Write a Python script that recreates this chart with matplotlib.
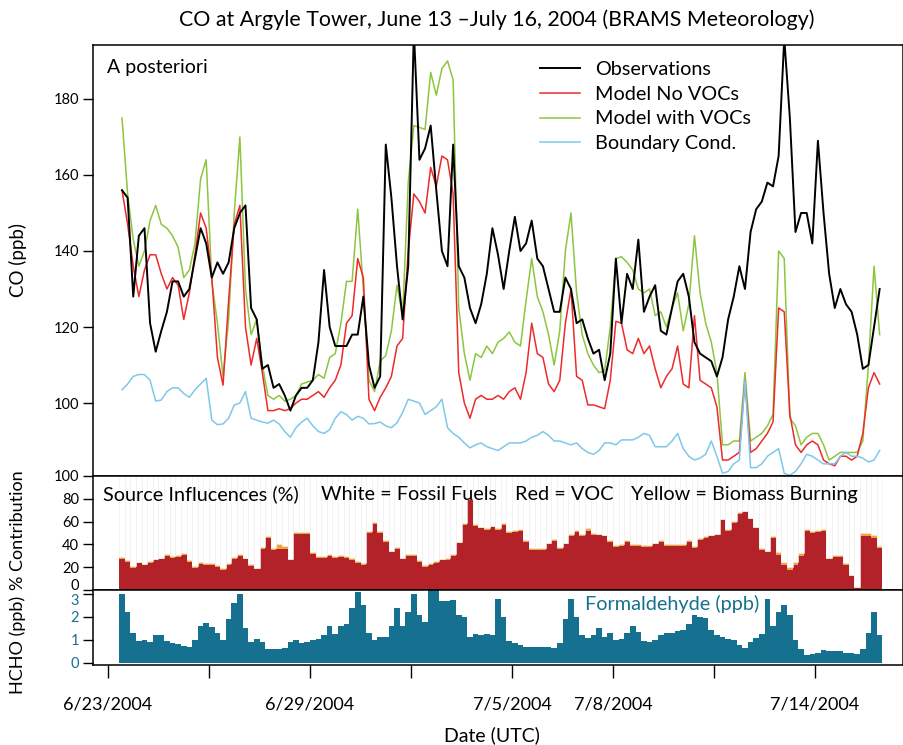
import numpy as np
import matplotlib
matplotlib.use("Agg")
import matplotlib.pyplot as plt
import matplotlib.dates as mdates

plt.rcParams["font.family"] = ["Lato", "DejaVu Sans"]

# hours since 2004-06-23 00 UTC, one sample every 4 h
hours = np.arange(10, 551, 4)

obs = [156, 154, 128, 144, 146, 121, 113.5, 119, 124, 132,
       132, 128, 130, 138, 146, 142, 133, 137, 134, 137,
       146, 150, 152, 125, 122, 109, 110, 104, 105, 102,
       98, 102, 104, 104, 106, 116, 135, 120, 115, 115,
       115, 118, 118, 128, 110, 104, 107, 168, 154, 136,
       122, 136, 198, 164, 167, 173, 156, 140, 136, 168,
       136, 133, 125, 121, 126, 134, 146, 139, 130, 140,
       149, 140, 142, 148, 138, 136, 130, 124, 124, 133,
       130, 121, 122, 117, 113, 114, 106, 113, 138, 121,
       134, 130, 143, 124, 128, 131, 119, 118, 125, 132,
       134, 128, 116, 113, 112, 111, 107, 112, 122, 128,
       136, 130, 145, 151, 153, 158, 157, 165, 196, 175,
       145, 150, 150, 142, 169, 150, 134, 125, 130, 126,
       124, 118, 109, 110, 120, 130]

no_voc = [156, 147, 136, 128, 135, 139, 139, 134, 130, 133,
          131, 122, 129, 139, 150, 146, 133, 112, 104.7, 127,
          147, 152, 120, 110, 117, 108, 98, 98, 98.5, 98,
          98.5, 100, 101, 101, 102, 103, 101.5, 104, 106, 110,
          121, 123, 138, 133, 101, 98, 101.5, 104, 107, 115,
          117, 140, 155, 153, 150, 162, 157, 165, 164, 155,
          108, 100, 96, 101, 102, 101, 101, 102, 101, 103,
          104, 101, 108, 121, 113, 112, 105, 103, 106, 121,
          130, 107, 106, 99.5, 99.5, 99, 98.5, 106, 121.5, 121,
          114, 113, 117, 113, 115, 109, 104, 107, 109, 115,
          105, 104, 123, 106, 105, 104, 99, 85, 85, 86,
          87, 106, 87, 88, 90, 92, 95, 125, 124, 97,
          89, 87, 89, 90, 89, 85, 84, 83.5, 86, 86,
          85, 86, 92, 104, 108, 105]

with_voc = [175, 155, 143, 136, 140, 148, 152, 147, 146, 144,
            141, 133, 135, 142, 159, 164, 132, 121, 107, 122,
            150, 170, 130, 118, 122, 110, 102, 101, 102, 100.5,
            101, 102, 105, 105.5, 106, 107.5, 106.5, 112, 113, 121,
            132, 132, 151, 130, 106, 103, 111, 112.5, 119, 131,
            123, 158, 173, 172.5, 172, 187, 181, 188, 190, 185,
            125, 113, 106, 113, 112, 115, 113, 116, 117, 118.7,
            116, 115, 127, 138, 128, 124, 118, 110, 119, 140,
            150, 129, 118, 113, 110, 108, 108.5, 120, 138, 138.5,
            137, 135, 130, 129, 130, 123, 124, 120, 125, 129,
            119, 126, 144, 129, 121, 116, 108, 89, 89, 90,
            90, 108, 90, 91, 92, 94, 97, 140, 138, 96,
            94, 89, 91, 92, 92, 89, 85, 86, 87, 87,
            87, 87, 90, 110, 136, 118]

boundary = [103.5, 105, 107, 107.5, 107.5, 106, 100.5, 100.8, 103, 104,
            104, 102.5, 101.5, 103.5, 105, 106.5, 95.5, 94.3, 94.5, 96,
            99.5, 100, 103, 96, 95.5, 95, 94.7, 95.5, 94.5, 92.5,
            91, 93.5, 95, 96, 94, 92.5, 92, 93, 96, 97.7,
            97, 95.5, 96.5, 96, 94.5, 94.6, 95, 94, 93.5, 94.8,
            97.5, 101, 100.5, 100, 97, 98, 99, 101, 93.5, 92,
            91, 89.5, 88.2, 89, 89.5, 88.5, 88, 87.5, 88.5, 89.5,
            89.5, 89.5, 90, 91, 91.5, 92.5, 91.5, 90, 90, 89.5,
            89, 89.5, 88, 87, 86.5, 87.5, 89.5, 89.5, 89, 90.3,
            90.3, 90.3, 91, 92, 91.5, 88.5, 88.5, 88.5, 90, 92,
            88, 86, 85, 85.5, 86.5, 90, 86, 81.5, 82, 84,
            85, 106, 83, 83, 84, 86, 87, 88, 81.5, 81,
            82, 84, 86.5, 86, 85, 84, 84, 84, 86, 87,
            86, 86, 85.5, 84.5, 85, 87.5]

voc_pct = [27, 24.5, 19.6, 23.5, 21.6, 24, 26, 27, 30, 28.5,
           29, 31, 25, 19.6, 23, 22, 22, 20.5, 17.5, 22,
           27.5, 30, 27, 21, 18, 36, 46, 35, 36, 36,
           26, 49, 49.5, 49, 32, 28, 28, 30, 28, 29,
           28, 26.5, 24, 22, 50, 58, 50, 42, 33, 36,
           27, 30, 30, 25, 20, 22, 24, 26, 26.5, 30,
           41, 57, 79, 56, 54, 53, 55, 53, 57, 50,
           51, 52, 42, 35, 35, 35, 40, 43, 36, 40,
           47.5, 51, 47, 52, 48, 48, 47, 42, 38, 39,
           42, 39, 39, 38, 38, 40, 42, 39, 39, 39,
           39, 42, 37, 44, 46, 47, 48, 61, 52, 59,
           67, 68, 62, 54, 35, 33, 46, 31, 22, 17.5,
           22, 30, 52, 50, 51, 52, 27, 29, 29, 22,
           12, 2, 47, 47, 46, 37]

biomass_pct = [2, 1.5, 1.5, 1.5, 1.5, 1.5, 1.5, 1.5, 1.5, 1.5,
               1.5, 1.5, 1.5, 1.5, 1.5, 1.5, 1.5, 1.5, 1.5, 1.5,
               1.5, 1.5, 1.5, 1.5, 1.5, 1.5, 1.5, 2, 4, 3,
               1.5, 1.5, 1.5, 1.5, 1.5, 1.5, 1.5, 1.5, 1.5, 1.5,
               1.5, 1.5, 1.5, 1.5, 1.5, 1.5, 1.5, 1.5, 1.5, 1.5,
               1.5, 1.5, 1.5, 1.5, 1.5, 1.5, 1.5, 1.5, 1.5, 1.5,
               1.5, 1.5, 1.5, 1.5, 1.5, 1.5, 1.5, 1.5, 1.5, 1.5,
               1.5, 1.5, 1.5, 1.5, 1.5, 1.5, 1.5, 1.5, 1.5, 1.5,
               2, 2, 2, 2, 2, 1.5, 1.5, 1.5, 1.5, 1.5,
               1.5, 1.5, 1.5, 1.5, 1.5, 1.5, 1.5, 1.5, 1.5, 1.5,
               1.5, 1.5, 1.5, 1.5, 1.5, 1.5, 1.5, 1.5, 1.5, 1.5,
               1.5, 1.5, 1.5, 1.5, 1.5, 1.5, 1.5, 2, 2.5, 3,
               3, 2.5, 1.5, 1.5, 1.5, 1.5, 1.5, 1.5, 1.5, 1.5,
               1, 0.5, 3, 3, 2, 1.5]

hcho = [3.0, 2.2, 1.29, 0.95, 0.98, 0.93, 1.2, 1.2, 0.97, 0.88,
        0.84, 0.75, 0.7, 0.98, 1.6, 1.72, 1.55, 1.32, 1.0, 1.9,
        2.6, 3.0, 1.5, 0.9, 1.05, 0.9, 0.62, 0.6, 0.6, 0.65,
        0.9, 1.0, 0.85, 0.92, 0.98, 1.05, 1.2, 1.6, 1.25, 1.6,
        1.7, 2.4, 3.1, 2.5, 1.3, 1.0, 1.15, 1.15, 1.6, 2.4,
        1.6, 2.2, 3.0, 2.1, 1.8, 3.2, 3.2, 2.7, 2.7, 2.75,
        2.1, 2.0, 1.15, 1.28, 1.2, 1.25, 1.2, 2.8, 2.0, 0.95,
        0.85, 0.78, 0.7, 0.7, 0.7, 0.7, 0.7, 0.67, 0.85, 1.9,
        2.8, 2.0, 1.2, 1.07, 1.2, 1.5, 1.15, 1.3, 1.0, 1.05,
        1.3, 1.6, 1.35, 0.95, 0.9, 1.0, 1.2, 1.3, 1.3, 1.4,
        1.45, 1.7, 2.1, 2.0, 1.95, 1.45, 1.2, 1.15, 1.05, 1.0,
        0.8, 0.65, 0.9, 1.07, 1.25, 2.8, 1.6, 2.2, 2.5, 2.1,
        1.0, 0.6, 0.35, 0.37, 0.42, 0.56, 0.5, 0.5, 0.5, 0.45,
        0.45, 0.4, 0.6, 1.3, 2.2, 1.2]

tick_dates = ["2004-06-23", "2004-06-26", "2004-06-29", "2004-07-02",
              "2004-07-05", "2004-07-08", "2004-07-11", "2004-07-14"]
tick_labels = ["6/23/2004", "", "6/29/2004", "", "7/5/2004", "7/8/2004", "", "7/14/2004"]

start = np.datetime64("2004-06-23T00:00")
x = mdates.date2num(start + hours.astype("timedelta64[h]"))
x0 = mdates.date2num(start)
width = 4 / 24

voc_pct = np.array(voc_pct)
biomass_pct = np.array(biomass_pct)

fig = plt.figure(figsize=(9.04, 7.45), dpi=100)
W, H = 904, 745
ax1 = fig.add_axes([93 / W, 1 - 476 / H, 810 / W, 431 / H])
ax2 = fig.add_axes([93 / W, 1 - 590 / H, 810 / W, 114 / H])
ax3 = fig.add_axes([93 / W, 1 - 665 / H, 810 / W, 75 / H])

# top panel
l_green, = ax1.plot(x, with_voc, color="#8cc63f", lw=1.1)
l_red, = ax1.plot(x, no_voc, color="#ee2a2a", lw=1.1)
l_obs, = ax1.plot(x, obs, color="black", lw=1.4)
l_blue, = ax1.plot(x, boundary, color="#7ec8ea", lw=1.1)
ax1.set_ylim(80.8, 194.2)
ax1.set_yticks([100, 120, 140, 160, 180])
ax1.legend([l_obs, l_red, l_green, l_blue],
           ["Observations", "Model No VOCs", "Model with VOCs", "Boundary Cond."],
           loc="upper left", bbox_to_anchor=(0.552, 0.962), frameon=False,
           fontsize=14.3, handlelength=2.0, handletextpad=0.75, labelspacing=0.38,
           borderpad=0, borderaxespad=0)
ax1.text(0.017, 0.947, "A posteriori", transform=ax1.transAxes, fontsize=14,
         va="center", ha="left")

# middle panel
top = voc_pct + biomass_pct
ax2.bar(x, voc_pct, width=width, color="#b22228", linewidth=0)
ax2.bar(x, biomass_pct, width=width, bottom=voc_pct, color="#f2a53a", linewidth=0)
ax2.bar(x, 100 - top, width=width, bottom=top, color="white",
        edgecolor="#ededed", linewidth=0.4)
ax2.set_ylim(0, 100)
ax2.set_yticks([0, 20, 40, 60, 80, 100])
for xt, s in [(0.0123, "Source Influcences (%)"), (0.281, "White = Fossil Fuels"),
              (0.521, "Red = VOC"), (0.664, "Yellow = Biomass Burning")]:
    ax2.text(xt, 0.842, s, transform=ax2.transAxes, fontsize=14.3, va="center", ha="left")

# bottom panel
teal = "#16708f"
ax3.bar(x, hcho, width=width, color=teal, linewidth=0)
ax3.set_ylim(-0.087, 3.17)
ax3.set_yticks([0, 1, 2, 3])
ax3.tick_params(axis="y", labelcolor=teal)
ax3.text(0.607, 0.81, "Formaldehyde (ppb)", transform=ax3.transAxes, fontsize=14.3,
         color=teal, va="center", ha="left")

xt = mdates.date2num(np.array(tick_dates, dtype="datetime64[D]"))
for ax in (ax1, ax2, ax3):
    ax.set_xlim(x0 - 0.445, x0 + 23.61)
    ax.tick_params(axis="y", direction="out", length=7, width=1, labelsize=10.5, pad=3)
    for sp in ax.spines.values():
        sp.set_linewidth(1.1)
    ax.set_xticks(xt)
    ax.tick_params(axis="x", direction="out", length=9, width=1)
for ax in (ax1, ax2):
    ax.tick_params(axis="x", bottom=False, labelbottom=False)
ax3.set_xticklabels(tick_labels, fontsize=13)
ax3.tick_params(axis="x", pad=14)

# keep the shared-edge labels "0" (middle) and "3" (bottom) apart
ax2.get_yticklabels()[0].set_va("baseline")
ax3.get_yticklabels()[-1].set_va("top")

fig.text(18 / W, 1 - 260 / H, "CO (ppb)", rotation=90, fontsize=13.5, ha="center", va="center")
fig.text(18 / W, 1 - 530 / H, "% Contribution", rotation=90, fontsize=13, ha="center", va="center")
fig.text(18 / W, 1 - 645 / H, "HCHO (ppb)", rotation=90, fontsize=13, ha="center", va="center")

fig.text(497 / W, 1 - 20 / H, "CO at Argyle Tower, June 13 \u2013July 16, 2004 (BRAMS Meteorology)",
         fontsize=15.4, ha="center", va="center")
fig.text(492 / W, 1 - 735 / H, "Date (UTC)", fontsize=14, ha="center", va="center")

fig.savefig("out.png", dpi=100)
